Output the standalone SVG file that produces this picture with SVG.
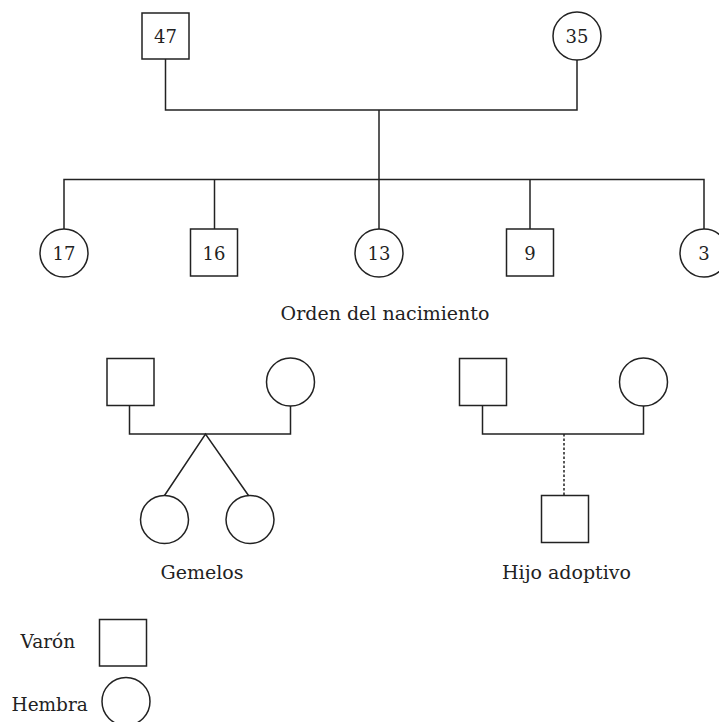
<svg xmlns="http://www.w3.org/2000/svg" width="719" height="722" viewBox="0 0 719 722">
<style>
.s{fill:#fff;stroke:#222;stroke-width:1.5}
.l{fill:none;stroke:#222;stroke-width:1.5}
.d{fill:none;stroke:#222;stroke-width:1.5;stroke-dasharray:2.5 2}
text{font-family:"DejaVu Serif","Liberation Serif",serif;fill:#222}
.n{font-size:18px;text-anchor:middle}
.t{font-size:19px;text-anchor:middle}
.k{font-size:18.5px}
</style>
<rect width="719" height="722" fill="#fff"/>
<g id="connectors">
<polyline class="l" points="165.5,59 165.5,110 577,110 577,60"/>
<line class="l" x1="379" y1="110" x2="379" y2="179.5"/>
<polyline class="l" points="64,229 64,179.5 704,179.5 704,229"/>
<line class="l" x1="214.5" y1="179.5" x2="214.5" y2="229"/>
<line class="l" x1="379" y1="179.5" x2="379" y2="229"/>
<line class="l" x1="530" y1="179.5" x2="530" y2="229"/>
<polyline class="l" points="129.5,406 129.5,434 290.5,434 290.5,406"/>
<polyline class="l" points="164.5,495.5 205.5,434 248.5,495.5"/>
<polyline class="l" points="482.5,406 482.5,434 643.5,434 643.5,406"/>
<line class="d" x1="564" y1="434" x2="564" y2="495.5"/>
</g>
<g id="n47"><rect class="s" x="142" y="13" width="47" height="46"/><text class="n" x="165.5" y="43">47</text></g>
<g id="n35"><circle class="s" cx="577" cy="36" r="24"/><text class="n" x="577" y="43">35</text></g>
<g id="n17"><circle class="s" cx="64" cy="253" r="24"/><text class="n" x="64" y="260">17</text></g>
<g id="n16"><rect class="s" x="190.5" y="229" width="47" height="47"/><text class="n" x="214" y="260">16</text></g>
<g id="n13"><circle class="s" cx="379" cy="253" r="24"/><text class="n" x="379" y="260">13</text></g>
<g id="n9"><rect class="s" x="506.5" y="229" width="47" height="47"/><text class="n" x="530" y="260">9</text></g>
<g id="n3"><circle class="s" cx="704" cy="253" r="24"/><text class="n" x="704" y="260">3</text></g>
<text class="t" x="385" y="320">Orden del nacimiento</text>
<g id="twin-father"><rect class="s" x="107" y="358.5" width="47" height="47"/></g>
<g id="twin-mother"><circle class="s" cx="290.5" cy="382" r="24"/></g>
<g id="twin1"><circle class="s" cx="164.5" cy="519.5" r="24"/></g>
<g id="twin2"><circle class="s" cx="250" cy="519.5" r="24"/></g>
<text class="t" x="202" y="579">Gemelos</text>
<g id="adopt-father"><rect class="s" x="459.5" y="358.5" width="47" height="47"/></g>
<g id="adopt-mother"><circle class="s" cx="643.5" cy="382" r="24"/></g>
<g id="adopted"><rect class="s" x="541.5" y="495.5" width="47" height="47"/></g>
<text class="t" x="566.5" y="579">Hijo adoptivo</text>
<g id="legend-male"><rect class="s" x="99.5" y="619.5" width="47" height="46.5"/><text class="k" x="20.5" y="648">Varón</text></g>
<g id="legend-female"><circle class="s" cx="126" cy="701.5" r="24"/><text class="k" x="11.5" y="710.5">Hembra</text></g>
</svg>
